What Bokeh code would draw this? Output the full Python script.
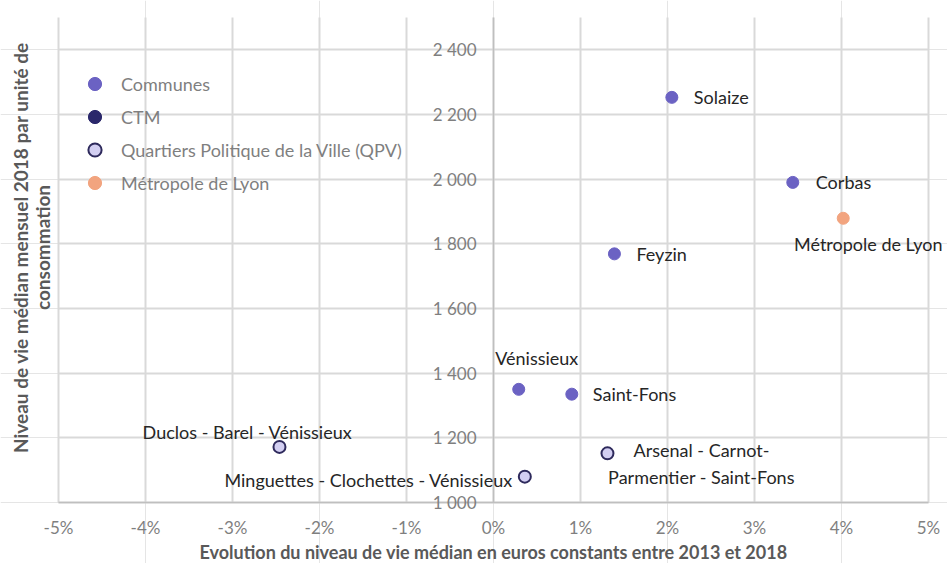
from bokeh.plotting import figure
from bokeh.models import (LinearAxis, FixedTicker, Grid, Range1d,
                          Label, Legend, LegendItem)
from bokeh.embed import file_html
from bokeh.resources import INLINE
import math

# ---------------- data ----------------
communes_names = ["Solaize", "Corbas", "Feyzin", "Vénissieux", "Saint-Fons"]
communes_x = [2.05, 3.44, 1.39, 0.29, 0.90]
communes_y = [2253, 1990, 1769, 1350, 1335]

qpv_names = ["Duclos - Barel - Vénissieux",
             "Minguettes - Clochettes - Vénissieux",
             "Arsenal - Carnot-\nParmentier - Saint-Fons"]
qpv_x = [-2.46, 0.36, 1.31]
qpv_y = [1172, 1080, 1152]

metro_names = ["Métropole de Lyon"]
metro_x = [4.02]
metro_y = [1879]

# CTM: listed in the legend, no value shown on the chart
ctm_x = [float("nan")]
ctm_y = [float("nan")]

legend_labels = ["Communes", "CTM", "Quartiers Politique de la Ville (QPV)", "Métropole de Lyon"]

x_ticks = [-5, -4, -3, -2, -1, 0, 1, 2, 3, 4, 5]
x_tick_labels = ["-5%", "-4%", "-3%", "-2%", "-1%", "0%", "1%", "2%", "3%", "4%", "5%"]
y_ticks = [1000, 1200, 1400, 1600, 1800, 2000, 2200, 2400]
y_tick_labels = ["1 000", "1 200", "1 400", "1 600", "1 800", "2 000", "2 200", "2 400"]
x_min, x_max = -5, 5
y_min, y_max = 1000, 2500

x_title = "Evolution du niveau de vie médian en euros constants entre 2013 et 2018"
y_title_lines = ["Niveau de vie médian mensuel 2018 par unité de", "consommation"]

# ---------------- layout (pixels) ----------------
W, H = 947, 563
PLOT_L, PLOT_R, PLOT_T, PLOT_B = 58, 928, 17, 502   # plotting area inside the canvas
px_x = (PLOT_R - PLOT_L) / (x_max - x_min)
px_y = (PLOT_B - PLOT_T) / (y_max - y_min)

# ---------------- styles ----------------
FONT = "Lato"
C_COMMUNES = "#6b62c3"
C_CTM = "#2b286b"
C_QPV_FILL = "#d3cff2"
C_QPV_LINE = "#2e2a5c"
C_METRO = "#f2a47f"
GRID = "#d9d9d9"
AXIS = "#bfbfbf"
TICK_TXT = "#7f7f7f"
TITLE_TXT = "#595959"
LBL_TXT = "#262626"

p = figure(width=W, height=H, output_backend="svg", toolbar_location=None,
           x_range=Range1d(x_min - PLOT_L / px_x, x_max + (W - PLOT_R) / px_x),
           y_range=Range1d(y_min - (H - PLOT_B) / px_y, y_max + PLOT_T / px_y),
           x_axis_location=None, y_axis_location=None,
           min_border=0, min_border_left=0, min_border_right=0,
           min_border_top=0, min_border_bottom=0)
p.outline_line_color = None
p.background_fill_color = "white"
p.border_fill_color = "white"

# grid lines limited to the plotting area
p.add_layout(Grid(dimension=0, ticker=FixedTicker(ticks=x_ticks), bounds=(x_min, x_max),
                  cross_bounds=(y_min, y_max), grid_line_color=GRID, grid_line_width=2))
p.add_layout(Grid(dimension=1, ticker=FixedTicker(ticks=y_ticks), bounds=(y_min, y_max),
                  cross_bounds=(x_min, x_max), grid_line_color=GRID, grid_line_width=2))

# x axis at y = 1000
xa = LinearAxis(fixed_location=y_min, bounds=(x_min, x_max), ticker=FixedTicker(ticks=x_ticks))
xa.major_label_overrides = {t: l for t, l in zip(x_ticks, x_tick_labels)}
xa.major_tick_line_color = None
xa.major_tick_out = 0
xa.major_tick_in = 0
xa.minor_tick_line_color = None
xa.axis_line_color = AXIS
xa.axis_line_width = 1.5
xa.major_label_text_font = FONT
xa.major_label_text_font_size = "17px"
xa.major_label_text_color = TICK_TXT
xa.major_label_standoff = 14
xa.axis_label = x_title
xa.axis_label_text_font = FONT
xa.axis_label_text_font_style = "bold"
xa.axis_label_text_font_size = "18px"
xa.axis_label_text_color = TITLE_TXT
xa.axis_label_standoff = 0
p.add_layout(xa, "below")

# y axis crossing at x = 0
ya = LinearAxis(fixed_location=0, bounds=(y_min, y_max), ticker=FixedTicker(ticks=y_ticks))
ya.major_label_overrides = {t: l for t, l in zip(y_ticks, y_tick_labels)}
ya.major_tick_line_color = None
ya.major_tick_out = 0
ya.major_tick_in = 0
ya.minor_tick_line_color = None
ya.axis_line_color = AXIS
ya.axis_line_width = 1.5
ya.major_label_text_font = FONT
ya.major_label_text_font_size = "17px"
ya.major_label_text_color = TICK_TXT
ya.major_label_standoff = 17
p.add_layout(ya, "left")

# y title (two rotated lines at the left edge)
for line, cx in zip(y_title_lines, [20, 42]):
    p.add_layout(Label(x=cx, y=H - 247, x_units="screen", y_units="screen", text=line,
                       angle=math.pi / 2, text_align="center", text_baseline="middle",
                       text_font=FONT, text_font_style="bold", text_font_size="19px",
                       text_color=TITLE_TXT))

# ---------------- points ----------------
r_com = p.scatter(communes_x, communes_y, size=12, fill_color=C_COMMUNES, line_color=C_COMMUNES)
r_ctm = p.scatter(ctm_x, ctm_y, size=12, fill_color=C_CTM, line_color=C_CTM)
r_qpv = p.scatter(qpv_x, qpv_y, size=12, fill_color=C_QPV_FILL, line_color=C_QPV_LINE, line_width=2)
r_met = p.scatter(metro_x, metro_y, size=12, fill_color=C_METRO, line_color=C_METRO)

legend = Legend(items=[LegendItem(label=l, renderers=[r]) for l, r in
                       zip(legend_labels, [r_com, r_ctm, r_qpv, r_met])],
                location=(78, 364), glyph_width=33, glyph_height=33, spacing=0,
                label_standoff=10, padding=0, margin=0,
                background_fill_alpha=0, border_line_alpha=0,
                label_text_font=FONT, label_text_font_size="18px", label_text_color=TICK_TXT)
p.add_layout(legend, "center")

# ---------------- point labels ----------------
def add_labels(xs, ys, names, offs):
    for x, y, n, (dx, dy, al) in zip(xs, ys, names, offs):
        p.add_layout(Label(x=x, y=y, text=n, x_offset=dx, y_offset=dy,
                           text_align=al, text_baseline="middle",
                           text_font=FONT, text_font_size="18px", text_color=LBL_TXT))

communes_label_pos = [(22, 0, "left"), (23, 0, "left"), (22, 0, "left"),
                      (18, 31, "center"), (21, 0, "left")]
qpv_label_pos = [(-32, 15, "center"), (-12, -3, "right"), (94, -10, "center")]
metro_label_pos = [(25, -26, "center")]

add_labels(communes_x, communes_y, communes_names, communes_label_pos)
add_labels(qpv_x, qpv_y, qpv_names, qpv_label_pos)
add_labels(metro_x, metro_y, metro_names, metro_label_pos)

open("out.html", "w").write(file_html(p, INLINE))
